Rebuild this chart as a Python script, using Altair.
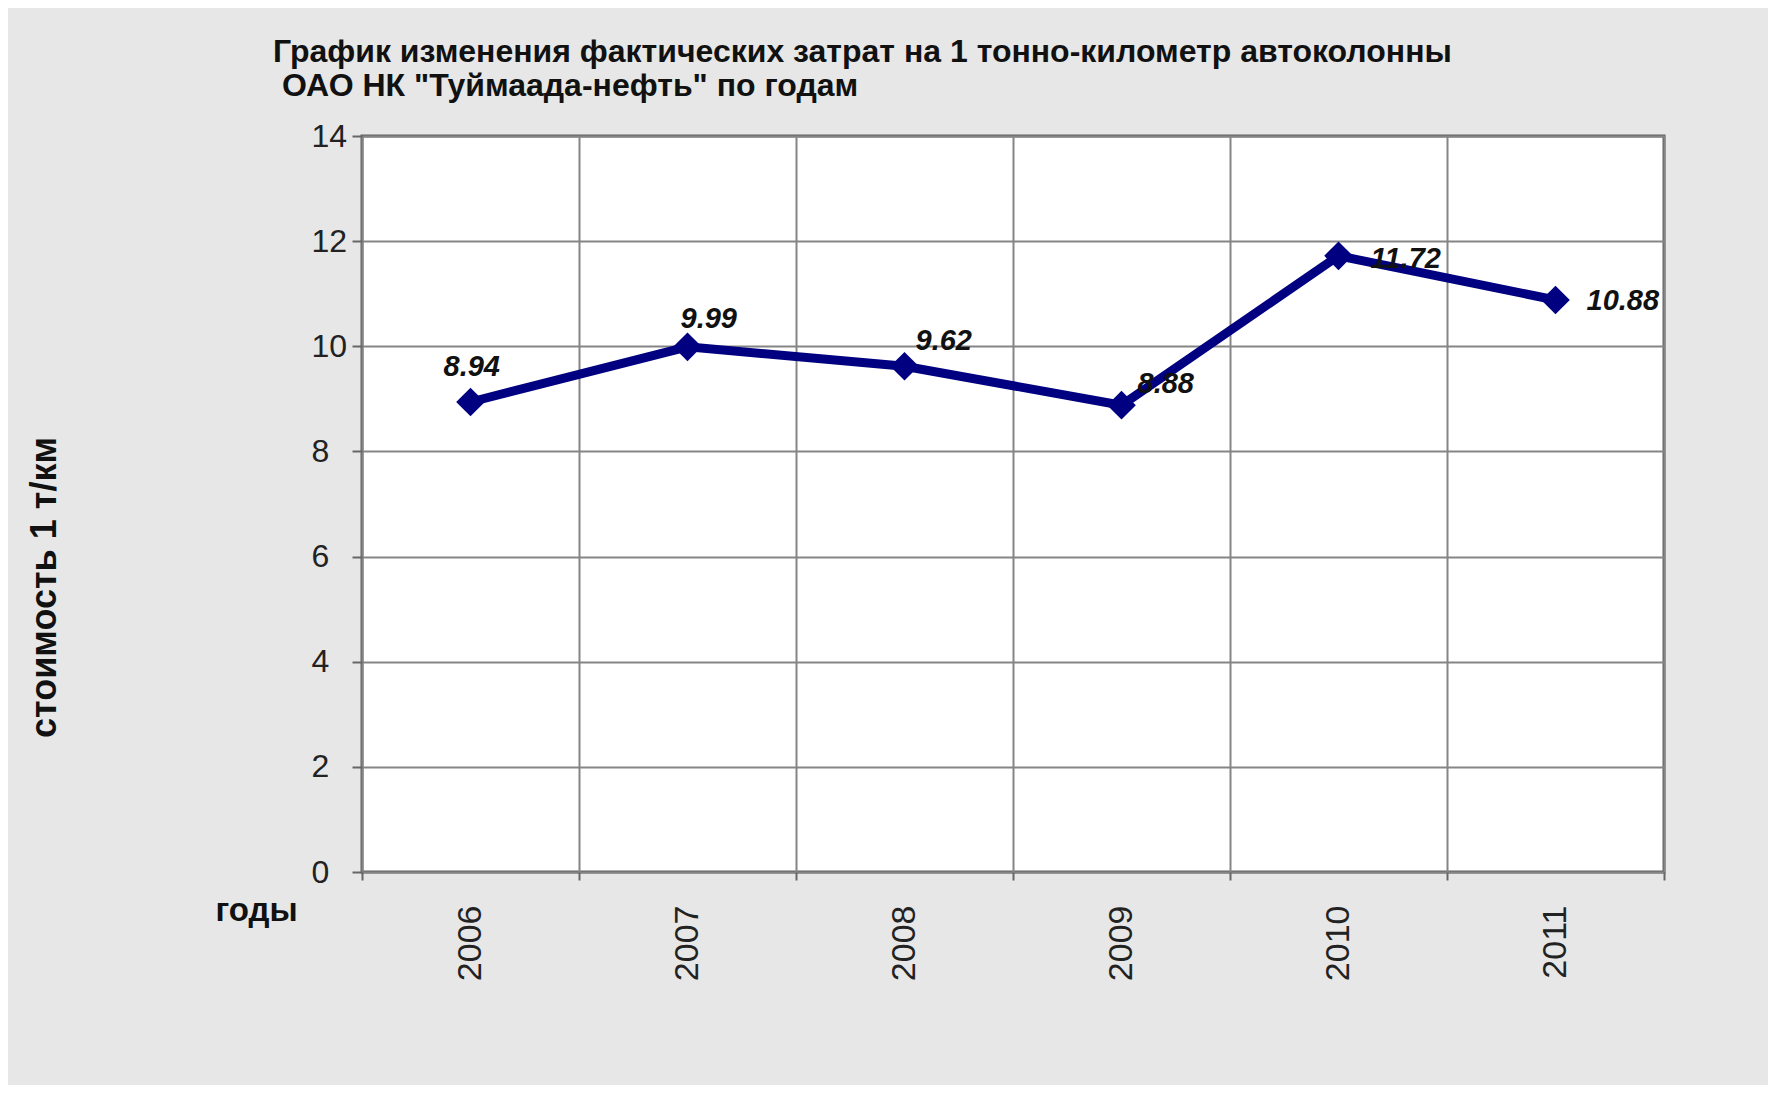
import altair as alt
import pandas as pd

# ---- data ----
years = ["2006", "2007", "2008", "2009", "2010", "2011"]
costs = [8.94, 9.99, 9.62, 8.88, 11.72, 10.88]
y_ticks = [0, 2, 4, 6, 8, 10, 12, 14]
title_lines = [
    "График изменения фактических затрат на 1 тонно-километр автоколонны",
    "\u200b\u00a0ОАО НК \"Туймаада-нефть\" по годам",
]
y_title = "стоимость 1 т/км"
x_title = "годы"

df = pd.DataFrame({"year": years, "cost": costs})
df["label"] = [f"{v:.2f}" for v in costs]

# ---- style ----
FONT = "Liberation Sans"
NAVY = "#000080"
# label placement (dx, dy) relative to each point, as in the reference
label_offsets = [(-27, -26), (-7, -19), (11, -16), (16, -12), (32, 12), (31, 10)]

x_enc = alt.X(
    "year:O",
    sort=years,
    scale=alt.Scale(type="band", paddingInner=0, paddingOuter=0),
    axis=alt.Axis(
        title=x_title,
        labelAngle=270,
        labelFont=FONT,
        labelFontSize=34,
        labelColor="#222222",
        labelPadding=25,
        tickSize=8,
        tickWidth=2,
        tickColor="#666666",
        tickBand="extent",
        grid=True,
        gridColor="#858585",
        gridWidth=2,
        domain=False,
        titleFont=FONT,
        titleFontSize=33,
        titleFontWeight="bold",
        titleColor="#111111",
        titleAngle=0,
        titleAlign="left",
        titleBaseline="alphabetic",
        titleX=-147,
        titleY=48,
    ),
)
y_enc = alt.Y(
    "cost:Q",
    scale=alt.Scale(domain=[0, 14], nice=False),
    axis=alt.Axis(
        values=y_ticks,
        title=y_title,
        labelFont=FONT,
        labelFontSize=32,
        labelColor="#222222",
        labelAlign="left",
        labelPadding=41,
        tickSize=10,
        tickWidth=2,
        tickColor="#666666",
        grid=True,
        gridColor="#858585",
        gridWidth=2,
        domain=False,
        titleFont=FONT,
        titleFontSize=36,
        titleFontWeight="bold",
        titleColor="#111111",
        titleAngle=270,
        titleAlign="center",
        titleBaseline="middle",
        titleX=-318,
        titleY=451,
    ),
)

base = alt.Chart(df).encode(x=x_enc, y=y_enc)

line = base.mark_line(color=NAVY, strokeWidth=9)
points = base.mark_point(shape="diamond", filled=True, size=820, color=NAVY, opacity=1)

label_layers = []
for yr, (dx, dy) in zip(years, label_offsets):
    label_layers.append(
        base.transform_filter(alt.datum.year == yr)
        .mark_text(
            align="left",
            baseline="alphabetic",
            dx=dx,
            dy=dy,
            font=FONT,
            fontSize=29,
            fontStyle="italic",
            fontWeight="bold",
            color="#111111",
        )
        .encode(text="label:N")
    )

chart = (
    alt.layer(line, points, *label_layers)
    .properties(
        width=1302,
        height=736,
        autosize=alt.AutoSizeParams(type="none"),
        padding={"left": 354, "top": 128, "right": 104, "bottom": 213},
        background="#e7e7e7",
        title=alt.TitleParams(
            text=title_lines,
            anchor="start",
            frame="group",
            dx=-89,
            font=FONT,
            fontSize=32,
            fontWeight="bold",
            color="#111111",
            lineHeight=34,
            offset=17,
        ),
    )
    .configure_view(fill="white", stroke="#606060", strokeWidth=3)
)

chart.save("out.html", embed_options={"renderer": "svg", "actions": False})
